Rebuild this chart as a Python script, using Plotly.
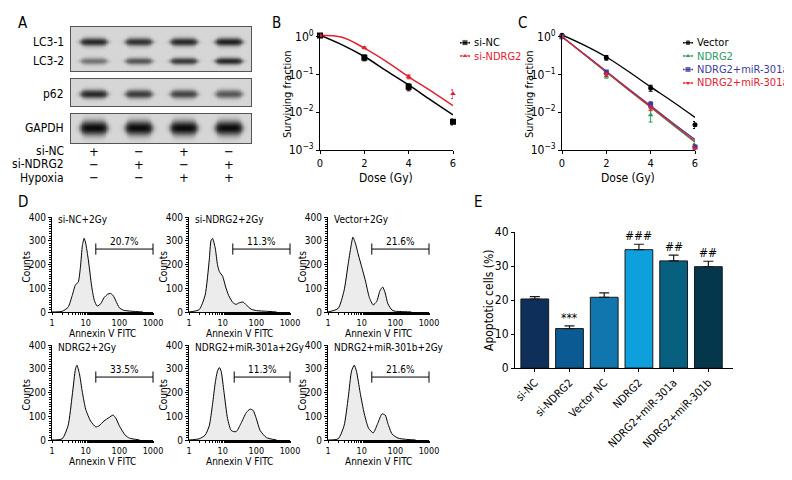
import numpy as np
import plotly.graph_objects as go

FONT = "Liberation Sans Narrow, DejaVu Sans Condensed, Arial Narrow, sans-serif"
# the page keeps the browser's 8px body margin, so the figure is drawn 8px in
OFF = 8
W, H = 792 - OFF, 480 - OFF

# ---- data ----
# A: western blot band intensities (relative darkness per lane)
lanes = [1, 2, 3, 4]
lc3_1 = [0.85, 0.80, 0.85, 0.90]
lc3_2 = [0.45, 0.60, 0.75, 0.85]
p62 = [0.85, 0.75, 0.70, 0.60]
gapdh = [1.0, 1.0, 1.0, 1.0]
cond_names = ["si-NC", "si-NDRG2", "Hypoxia"]
si_nc_row = ["+", "−", "+", "−"]
si_ndrg2_row = ["−", "+", "−", "+"]
hypoxia_row = ["−", "−", "+", "+"]

# B: clonogenic survival
dose = [0, 2, 4, 6]
fit_dose = [0, 1, 2, 3, 4, 5, 6]
b_names = ["si-NC", "si-NDRG2"]
b_sinc = [1.08, 0.28, 0.047, 0.0056]
b_sinc_err = [0.05, 0.05, 0.010, 0.0010]
b_sindrg2 = [1.08, 0.51, 0.087, 0.031]
b_sindrg2_err = [0.03, 0.03, 0.010, 0.008]
b_sinc_fit = [1.1, 0.61, 0.30, 0.125, 0.053, 0.021, 0.0085]
b_sindrg2_fit = [1.1, 0.97, 0.50, 0.22, 0.087, 0.037, 0.015]

# C
c_names = ["Vector", "NDRG2", "NDRG2+miR-301a", "NDRG2+miR-301a"]
c_vals = [
    [1.1, 0.28, 0.044, 0.0047],
    [1.0, 0.09, 0.0085, 0.0013],
    [1.0, 0.115, 0.016, 0.0012],
    [1.0, 0.10, 0.013, 0.0011],
]
c_errs = [
    [0.05, 0.04, 0.008, 0.0010],
    [0.03, 0.01, 0.003, 0.0002],
    [0.03, 0.015, 0.003, 0.0002],
    [0.03, 0.01, 0.002, 0.0002],
]
c_fit_dose = [0, 1, 2, 3, 4, 5, 6]
c_fits = [
    [1.12, 0.60, 0.29, 0.12, 0.047, 0.019, 0.0073],
    [1.0, 0.34, 0.115, 0.039, 0.0135, 0.0046, 0.0016],
    [1.0, 0.35, 0.122, 0.042, 0.0148, 0.0052, 0.0019],
    [1.0, 0.345, 0.118, 0.040, 0.0140, 0.0049, 0.0017],
]

# D: flow cytometry histograms (Annexin V FITC vs counts)
hist_titles = ["si-NC+2Gy", "si-NDRG2+2Gy", "Vector+2Gy",
               "NDRG2+2Gy", "NDRG2+miR-301a+2Gy", "NDRG2+miR-301b+2Gy"]
hist_pct = ["20.7%", "11.3%", "21.6%", "33.5%", "11.3%", "21.6%"]
gate_lo = [20, 20, 20, 20, 22, 20]
gate_hi = [1000, 1000, 1000, 1000, 1000, 1000]
gate_y = [265, 265, 265, 265, 265, 265]
h1_x = [1, 2, 3, 4, 5, 6, 7, 8, 9, 10, 12, 15, 18, 22, 28, 35, 45, 55, 65, 80, 100, 130, 200, 300, 500]
h1_y = [0, 3, 20, 70, 115, 125, 190, 280, 310, 290, 220, 110, 50, 25, 35, 60, 75, 78, 70, 45, 18, 8, 4, 2, 0]
h2_x = [1, 2, 3, 4, 4.5, 5, 6, 7, 8, 10, 12, 15, 20, 25, 30, 40, 50, 70, 100, 200, 400]
h2_y = [0, 10, 70, 220, 300, 310, 270, 200, 170, 150, 110, 70, 40, 32, 38, 42, 30, 12, 6, 3, 0]
h3_x = [1, 2, 3, 4, 5, 5.5, 6.5, 8, 10, 13, 17, 22, 28, 35, 42, 50, 60, 80, 100, 150, 300]
h3_y = [0, 15, 90, 205, 290, 315, 290, 240, 190, 130, 60, 30, 45, 90, 105, 80, 35, 8, 3, 2, 0]
h4_x = [1, 2, 3, 4, 5, 5.5, 6.5, 8, 10, 14, 20, 25, 35, 50, 65, 80, 100, 150, 200, 400]
h4_y = [0, 5, 60, 190, 300, 315, 280, 200, 130, 80, 55, 60, 80, 95, 105, 90, 60, 20, 8, 0]
h5_x = [1, 2, 3, 4, 5, 6, 7, 8, 9, 11, 14, 18, 25, 35, 50, 65, 80, 100, 130, 200, 400]
h5_y = [0, 5, 20, 60, 150, 240, 290, 305, 290, 200, 90, 40, 35, 70, 115, 130, 125, 90, 40, 10, 0]
h6_x = [1, 2, 3, 4, 5, 6, 7, 9, 12, 16, 22, 30, 40, 50, 60, 80, 120, 200, 400]
h6_y = [0, 5, 60, 180, 290, 315, 290, 200, 110, 50, 30, 70, 110, 105, 70, 25, 8, 3, 0]
hist_x = [h1_x, h2_x, h3_x, h4_x, h5_x, h6_x]
hist_y = [h1_y, h2_y, h3_y, h4_y, h5_y, h6_y]

# E: apoptosis bars
groups = ["si-NC", "si-NDRG2", "Vector NC", "NDRG2", "NDRG2+miR-301a", "NDRG2+miR-301b"]
apop = [20.3, 11.6, 20.8, 34.8, 31.5, 29.8]
apop_err = [0.7, 0.8, 1.3, 1.6, 1.7, 1.6]
sig = ["", "***", "", "###", "##", "##"]
bar_colors = ["#0d2f5a", "#0c5a93", "#1076ad", "#0ea0dd", "#07607f", "#05374c"]


def dx(px):
    return (px - OFF) / W


def dy(py):
    return 1 - (py - OFF) / H


fig = go.Figure()
lay = {}
ann = []

axis_base = dict(showline=True, linecolor="black", linewidth=1, ticks="outside",
                 ticklen=3, tickcolor="black", showgrid=False, zeroline=False,
                 automargin=False, tickfont=dict(size=11, color="black"))
hidden = dict(visible=False, showgrid=False, zeroline=False, automargin=False, fixedrange=True)


def add_note(text, px, py, size=12, xanchor="center", yanchor="middle", angle=0):
    ann.append(dict(text=text, x=dx(px), y=dy(py), xref="paper", yref="paper",
                    xanchor=xanchor, yanchor=yanchor, showarrow=False, textangle=angle,
                    font=dict(size=size)))


# ---- A: blot ----
blot_boxes = [
    (1, 27, 71, [(lc3_1, 42, 4.0), (lc3_2, 61, 3.5)]),
    (2, 79, 106, [(p62, 94, 4.2)]),
    (3, 114, 143, [(gapdh, 128, 7.0)]),
]
for n, y0, y1, bands in blot_boxes:
    xs = np.linspace(0.5, 4.5, 241)
    ys = np.linspace(y0, y1, int((y1 - y0) * 3))
    X, Y = np.meshgrid(xs, ys)
    Z = np.zeros_like(X)
    for inten, yc, hh in bands:
        for lane, v in zip(lanes, inten):
            d = np.abs(X - lane)
            gx = 1 / (1 + np.exp((d - 0.29) / 0.035))
            gy = np.exp(-((Y - yc) / (hh * (0.55 + 0.45 * gx))) ** 2)
            Z += v * gx * gy
    fig.add_trace(go.Heatmap(x=xs, y=ys, z=Z, zmin=0, zmax=1, showscale=False,
                             colorscale=[[0, "#d6d6d6"], [0.5, "#6a6a6a"], [1, "#0c0c0c"]],
                             zsmooth="best", hoverinfo="skip",
                             xaxis=f"x{n}", yaxis=f"y{n}"))
    lay[f"xaxis{n}"] = dict(domain=[dx(71), dx(251)], range=[0.5, 4.5], showline=True,
                            mirror=True, linecolor="#555", linewidth=1.2, automargin=False,
                            showticklabels=False, ticks="", showgrid=False,
                            zeroline=False, anchor=f"y{n}")
    lay[f"yaxis{n}"] = dict(domain=[dy(y1), dy(y0)], range=[y1, y0], showline=True,
                            mirror=True, linecolor="#555", linewidth=1.2, automargin=False,
                            showticklabels=False, ticks="", showgrid=False,
                            zeroline=False, anchor=f"x{n}")

for txt, py in [("LC3-1", 42), ("LC3-2", 61), ("p62", 94), ("GAPDH", 128)]:
    add_note(txt, 66, py, size=12, xanchor="right")
for name, row, py in zip(cond_names, [si_nc_row, si_ndrg2_row, hypoxia_row], [151, 164, 178]):
    add_note(name, 66, py, size=12, xanchor="right")
    for lane, s in zip(lanes, row):
        ann.append(dict(text=s, x=lane, y=dy(py), xref="x3", yref="paper",
                        xanchor="center", yanchor="middle", showarrow=False,
                        font=dict(size=13)))

# ---- B ----
b_colors = ["black", "#e3202f"]
b_symbols = ["square", "triangle-up"]
for fit, col in zip([b_sinc_fit, b_sindrg2_fit], b_colors):
    fig.add_trace(go.Scatter(x=fit_dose, y=fit, mode="lines", line=dict(color=col, width=1.5, shape="spline"),
                             xaxis="x4", yaxis="y4", hoverinfo="skip"))
for vals, errs, col, sym, sz in zip([b_sinc, b_sindrg2], [b_sinc_err, b_sindrg2_err], b_colors, b_symbols, [6, 5]):
    fig.add_trace(go.Scatter(x=dose, y=vals, mode="markers",
                             marker=dict(symbol=sym, size=sz, color=col),
                             error_y=dict(type="data", array=errs, color=col, width=2, thickness=1),
                             xaxis="x4", yaxis="y4", cliponaxis=False))

log_ticks = dict(type="log", tickvals=[1, 0.1, 0.01, 0.001],
                 ticktext=["10<sup>0</sup>", "10<sup>−1</sup>", "10<sup>−2</sup>", "10<sup>−3</sup>"],
                 tickfont=dict(size=12))
lay["xaxis4"] = dict(axis_base, domain=[dx(320), dx(453)], range=[0, 6], tickvals=dose, anchor="y4")
lay["yaxis4"] = dict(axis_base, **log_ticks, domain=[dy(150), dy(33)], range=[-3, 0.1], anchor="x4")
add_note("Dose (Gy)", 386, 178, size=12)
add_note("Surviving fraction", 288, 94, size=11, angle=-90)

# ---- C ----
c_colors = ["black", "#2a9a5e", "#3c3c9c", "#e3202f"]
c_symbols = ["circle", "triangle-up", "square", "triangle-down"]
for fit, col in zip(c_fits, c_colors):
    fig.add_trace(go.Scatter(x=c_fit_dose, y=fit, mode="lines", line=dict(color=col, width=1.3, shape="spline"),
                             xaxis="x5", yaxis="y5", hoverinfo="skip"))
for vals, errs, col, sym in zip(c_vals, c_errs, c_colors, c_symbols):
    fig.add_trace(go.Scatter(x=dose, y=vals, mode="markers",
                             marker=dict(symbol=sym, size=5, color=col),
                             error_y=dict(type="data", array=errs, color=col, width=2, thickness=1),
                             xaxis="x5", yaxis="y5", cliponaxis=False))
lay["xaxis5"] = dict(axis_base, domain=[dx(562), dx(695)], range=[0, 6], tickvals=dose, anchor="y5")
lay["yaxis5"] = dict(axis_base, **log_ticks, domain=[dy(150), dy(33)], range=[-3, 0.1], anchor="x5")
add_note("Dose (Gy)", 628, 178, size=12)
add_note("Surviving fraction", 530, 94, size=11, angle=-90)

# ---- manual legends (B: axis 13, C: axis 14) ----
legends = [(13, 459, 36, b_names, b_colors, b_symbols),
           (14, 682, 36, c_names, c_colors, c_symbols)]
for n, lx, ly, names, cols, syms in legends:
    k = len(names)
    lay[f"xaxis{n}"] = dict(hidden, domain=[dx(lx), dx(lx + 100)], range=[0, 100], anchor=f"y{n}")
    lay[f"yaxis{n}"] = dict(hidden, domain=[dy(ly + 13.4 * k), dy(ly)], range=[k - 0.5, -0.5], anchor=f"x{n}")
    for i, (nm, col, sym) in enumerate(zip(names, cols, syms)):
        fig.add_trace(go.Scatter(x=[1, 6, 11], y=[i, i, i], mode="lines+markers",
                                 line=dict(color=col, width=1.5),
                                 marker=dict(symbol=sym, size=[0, 6, 0], color=col),
                                 xaxis=f"x{n}", yaxis=f"y{n}", hoverinfo="skip", cliponaxis=False))
        ann.append(dict(text=nm, x=13, y=i, xref=f"x{n}", yref=f"y{n}", xanchor="left",
                        yanchor="middle", showarrow=False, font=dict(size=11, color=col)))

# ---- D ----
cols_px = [(52, 153), (189, 290), (328, 429)]
rows_px = [(312, 217), (440, 345)]
for i in range(6):
    n = 6 + i
    cx0, cx1 = cols_px[i % 3]
    ry0, ry1 = rows_px[i // 3]
    fig.add_trace(go.Scatter(x=hist_x[i], y=hist_y[i], mode="lines", fill="tozeroy",
                             fillcolor="#ececec", line=dict(color="black", width=1, shape="spline", smoothing=0.6),
                             xaxis=f"x{n}", yaxis=f"y{n}", hoverinfo="skip"))
    fig.add_trace(go.Scatter(x=[gate_lo[i], gate_hi[i]], y=[gate_y[i], gate_y[i]], mode="lines+markers",
                             line=dict(color="black", width=1),
                             marker=dict(symbol="line-ns-open", size=8, color="black", line=dict(width=1)),
                             xaxis=f"x{n}", yaxis=f"y{n}", hoverinfo="skip", cliponaxis=False))
    mid = (np.log10(gate_lo[i]) + np.log10(gate_hi[i])) / 2
    ann.append(dict(text=hist_pct[i], x=mid, y=gate_y[i], xref=f"x{n}", yref=f"y{n}",
                    xanchor="center", yanchor="bottom", showarrow=False, font=dict(size=10)))
    add_note(hist_titles[i], cx0 + 4, ry1 + 2, size=10, xanchor="left")
    add_note("Annexin V FITC", (cx0 + cx1) / 2, ry0 + 21, size=10)
    add_note("Counts", cx0 - 26, (ry0 + ry1) / 2 + 2, size=10, angle=-90)
    lay[f"xaxis{n}"] = dict(axis_base, type="log", domain=[dx(cx0), dx(cx1)], range=[0, 3],
                            tickvals=[1, 10, 100, 1000], ticktext=["1", "10", "100", "1000"],
                            tickfont=dict(size=9), ticklen=2,
                            minor=dict(ticks="outside", ticklen=2, tickcolor="black"),
                            anchor=f"y{n}")
    lay[f"yaxis{n}"] = dict(axis_base, domain=[dy(ry0), dy(ry1)], range=[0, 400],
                            tickvals=[0, 100, 200, 300, 400], tickfont=dict(size=10), ticklen=3,
                            minor=dict(ticks="outside", ticklen=2, dtick=10, tickcolor="black"),
                            anchor=f"x{n}")

# ---- E ----
xs_e = list(range(len(groups)))
fig.add_trace(go.Bar(x=xs_e, y=apop, width=0.8,
                     marker=dict(color=bar_colors, line=dict(color="#1a1a1a", width=1)),
                     error_y=dict(type="data", array=apop_err, arrayminus=[0] * 6, symmetric=False,
                                  color="#1a1a1a", width=5, thickness=1.2),
                     xaxis="x12", yaxis="y12", hoverinfo="skip"))
for xi, v, e, s in zip(xs_e, apop, apop_err, sig):
    if s:
        ann.append(dict(text=s, x=xi, y=v + e, xref="x12", yref="y12", xanchor="center",
                        yanchor="bottom", showarrow=False, font=dict(size=12), yshift=-1))
lay["xaxis12"] = dict(axis_base, domain=[dx(515), dx(733)], range=[-0.57, 5.71], tickvals=xs_e,
                      ticktext=groups, tickangle=-45, tickfont=dict(size=11), anchor="y12")
lay["yaxis12"] = dict(axis_base, domain=[dy(368), dy(232)], range=[0, 40], tickvals=[0, 10, 20, 30, 40],
                      tickfont=dict(size=12), anchor="x12")
add_note("Apoptotic cells (%)", 489, 300, size=12, angle=-90)

# panel letters
for letter, px, py in [("A", 23, 23), ("B", 276, 23), ("C", 522, 23), ("D", 23, 202), ("E", 478, 202)]:
    add_note(letter, px, py, size=15)

fig.update_layout(
    **lay,
    annotations=ann,
    width=W, height=H,
    margin=dict(l=0, r=0, t=0, b=0, autoexpand=False),
    showlegend=False,
    paper_bgcolor="white", plot_bgcolor="white",
    font=dict(family=FONT, size=12, color="black"),
)

fig.write_html("out.html")
